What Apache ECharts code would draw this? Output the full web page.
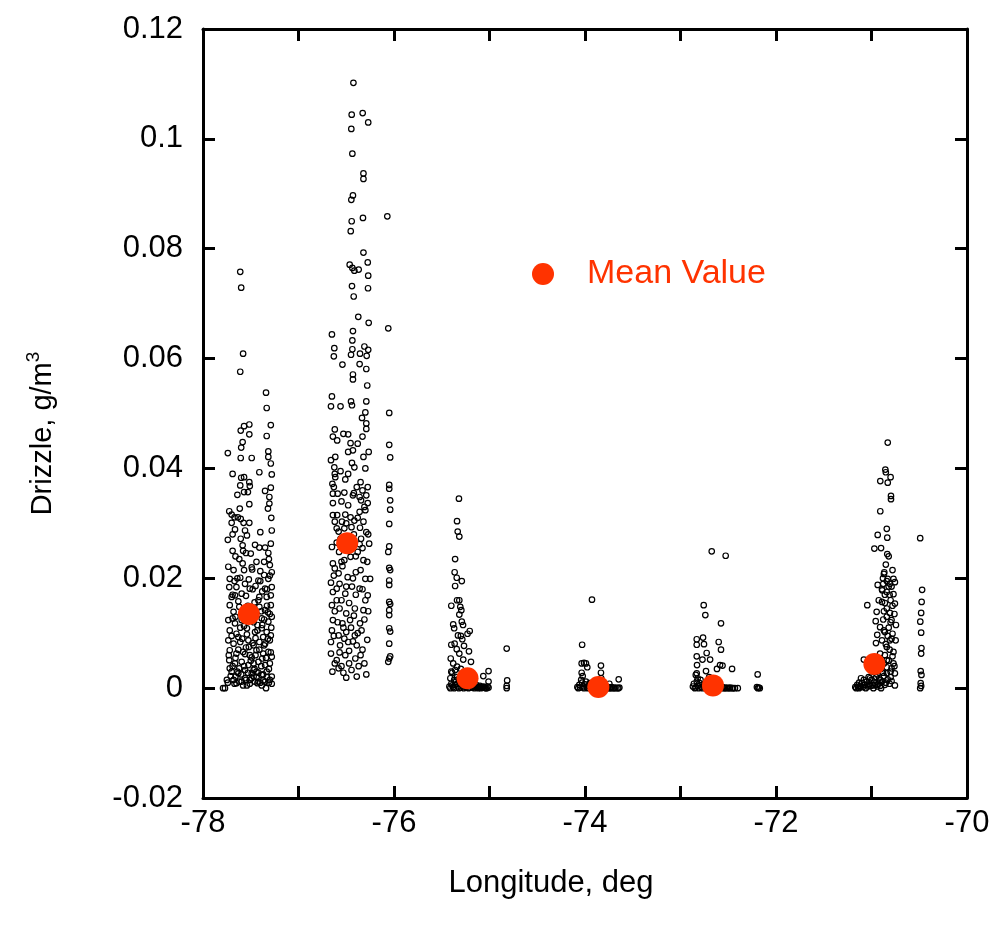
<!DOCTYPE html>
<html>
<head>
<meta charset="utf-8">
<script src="https://cdn.jsdelivr.net/npm/echarts@6/dist/echarts.min.js"></script>
<style>html,body{margin:0;padding:0;background:#fff}#c{width:997px;height:932px}</style>
</head>
<body>
<div id="c"></div>
<script>
// ---- data ----
const xTicks = [-78, -76, -74, -72, -70];
const yTicks = [-0.02, 0, 0.02, 0.04, 0.06, 0.08, 0.1, 0.12];

const meanLon = [-77.52, -76.49, -75.23, -73.86, -72.66, -70.97];
const meanVal = [0.0135, 0.0264, 0.0018, 0.0002, 0.0005, 0.0044];

const cluster1 = [
[-77.61,0.0758],[-77.60,0.0729],[-77.58,0.0609],[-77.61,0.0576],[-77.34,0.0538],[-77.333,0.0510],
[-77.515,0.0480],[-77.57,0.0477],[-77.605,0.0469],[-77.29,0.0479],[-77.333,0.0459],[-77.515,0.0462],
[-77.585,0.0448],[-77.60,0.0438],[-77.74,0.0428],[-77.605,0.0419],[-77.49,0.0419],[-77.316,0.0431],
[-77.316,0.0421],[-77.29,0.0409],[-77.69,0.0390],[-77.60,0.0383],[-77.57,0.0384],[-77.41,0.0393],
[-77.28,0.0389],[-77.515,0.0375],[-77.61,0.0369],[-77.51,0.0368],[-77.29,0.0365],[-77.57,0.0357],
[-77.64,0.0352],[-77.53,0.0357],[-77.35,0.0359],[-77.305,0.0348],[-77.305,0.0336],[-77.515,0.0335],
[-77.615,0.0327],[-77.725,0.0322],[-77.70,0.0316],[-77.67,0.0311],[-77.635,0.0311],[-77.605,0.0308],
[-77.575,0.0301],[-77.515,0.0301],[-77.32,0.0327],[-77.285,0.0310],[-77.70,0.0301],[-77.665,0.0289],
[-77.56,0.0287],[-77.40,0.0284],[-77.28,0.0287],[-77.69,0.0280],[-77.74,0.0270],[-77.605,0.0272],
[-77.54,0.0278],[-77.455,0.0261],[-77.41,0.0256],[-77.35,0.0256],[-77.29,0.0263],[-77.585,0.0260],
[-77.55,0.0246],[-77.316,0.0246],[-77.735,0.0221],[-77.68,0.0215],[-77.585,0.0227],[-77.485,0.0216],
[-77.40,0.0213],[-77.30,0.0224],[-77.28,0.0211],[-77.72,0.0199],[-77.61,0.0201],[-77.56,0.0190],
[-77.42,0.0196],[-77.316,0.0199],[-77.725,0.0184],[-77.65,0.0184],[-77.51,0.0181],[-77.35,0.0181],
[-77.28,0.0184],[-77.70,0.0166],[-77.665,0.0169],[-77.595,0.0172],[-77.41,0.0166],[-77.333,0.0166],
[-77.29,0.0169],[-77.72,0.0151],[-77.68,0.0139],[-77.62,0.0148],[-77.41,0.0148],[-77.35,0.0142],
[-77.29,0.0151],[-77.735,0.0124],[-77.665,0.0118],[-77.595,0.0124],[-77.385,0.0127],[-77.316,0.0121],
[-77.28,0.0130],[-77.72,0.0105],[-77.65,0.0099],[-77.54,0.0109],[-77.455,0.0102],[-77.385,0.0109],
[-77.333,0.0102],[-77.29,0.0096],[-77.735,0.0087],[-77.68,0.0081],[-77.61,0.0084],[-77.525,0.0087],
[-77.47,0.0078],[-77.41,0.0084],[-77.35,0.0081],[-77.30,0.0087],[-77.72,0.0069],[-77.65,0.0063],
[-77.58,0.0066],[-77.51,0.0060],[-77.44,0.0069],[-77.37,0.0063],[-77.316,0.0066],[-77.28,0.0057],
[-77.725,0.0051],[-77.665,0.0045],[-77.595,0.0048],[-77.525,0.0042],[-77.47,0.0045],[-77.42,0.0048],
[-77.35,0.0042],[-77.30,0.0045],[-77.70,0.0030],[-77.63,0.0027],[-77.56,0.0033],[-77.49,0.0027],
[-77.44,0.0030],[-77.385,0.0024],[-77.333,0.0030],[-77.68,0.0015],[-77.595,0.0012],[-77.51,0.0015],
[-77.43,0.0009],[-77.34,0.0000],[-77.79,0.0000],[-77.77,0.0000],[-77.65,0.0009],[-77.28,0.0021],
[-77.54,0.0005],[-77.385,0.0005],[-77.47,0.0021],[-77.62,0.0036],[-77.46,0.0035],[-77.37,0.0014],
[-77.31,0.0010],[-77.56,0.0018],[-77.42,0.0012],[-77.66,0.0021],[-77.72,0.0036],[-77.49,0.0056],
[-77.38,0.0054],[-77.55,0.0074],[-77.45,0.0091],[-77.63,0.0093],[-77.37,0.0093],[-77.57,0.0113],
[-77.43,0.0115],[-77.50,0.0132],[-77.69,0.0127],[-77.32,0.0138],[-77.46,0.0156],[-77.63,0.0158],
[-77.38,0.0176],[-77.55,0.0168],[-77.45,0.0186],[-77.67,0.0195],[-77.36,0.0206],[-77.52,0.0198],
[-77.62,0.0235],[-77.44,0.0230],[-77.31,0.0235],[-77.69,0.0250],[-77.50,0.0245],
[-77.74,0.0010],[-77.71,0.0022],[-77.69,0.0040],[-77.67,0.0008],[-77.66,0.0055],[-77.64,0.0030],
[-77.63,0.0070],[-77.62,0.0012],[-77.60,0.0025],[-77.59,0.0090],[-77.58,0.0005],[-77.57,0.0040],
[-77.56,0.0062],[-77.55,0.0015],[-77.54,0.0098],[-77.53,0.0028],[-77.52,0.0075],[-77.51,0.0008],
[-77.50,0.0050],[-77.49,0.0018],[-77.48,0.0082],[-77.47,0.0033],[-77.46,0.0012],[-77.45,0.0060],
[-77.44,0.0020],[-77.43,0.0105],[-77.42,0.0028],[-77.41,0.0070],[-77.40,0.0010],[-77.39,0.0040],
[-77.38,0.0115],[-77.37,0.0025],[-77.36,0.0078],[-77.35,0.0012],[-77.34,0.0055],[-77.33,0.0020],
[-77.32,0.0090],[-77.31,0.0035],[-77.30,0.0015],[-77.29,0.0065],[-77.28,0.0008],[-77.285,0.0110],
[-77.30,0.0135],[-77.33,0.0150],[-77.36,0.0125],[-77.39,0.0140],[-77.42,0.0160],[-77.47,0.0120],
[-77.53,0.0150],[-77.58,0.0135],[-77.61,0.0110],[-77.66,0.0130],[-77.70,0.0095],[-77.73,0.0060],
[-77.75,0.0015],[-77.69,0.0170],[-77.64,0.0200],[-77.57,0.0215],[-77.48,0.0180],[-77.40,0.0195],
[-77.33,0.0180],[-77.30,0.0205],[-77.36,0.0230],[-77.58,0.0250],[-77.66,0.0240],[-77.49,0.0220]
];

const cluster2 = [
[-76.425,0.1102],[-76.443,0.1044],[-76.328,0.1047],[-76.27,0.1030],[-76.447,0.1018],[-76.436,0.0973],
[-76.32,0.0937],[-76.32,0.0927],[-76.43,0.0897],[-76.447,0.0889],[-76.325,0.0856],[-76.443,0.0850],
[-76.453,0.0832],[-76.32,0.0793],[-76.275,0.0775],[-76.464,0.0771],[-76.436,0.0765],[-76.415,0.0760],
[-76.37,0.0762],[-76.27,0.0751],[-76.44,0.0732],[-76.272,0.0728],[-76.422,0.0713],[-76.374,0.0676],
[-76.265,0.0665],[-76.65,0.0644],[-76.43,0.0650],[-76.436,0.0633],[-76.625,0.0619],[-76.436,0.0617],
[-76.31,0.0622],[-76.27,0.0616],[-76.63,0.0604],[-76.356,0.0609],[-76.286,0.0605],[-76.45,0.0607],
[-76.54,0.0589],[-76.36,0.0590],[-76.29,0.0581],[-76.43,0.0571],[-76.43,0.0562],[-76.28,0.0551],
[-76.65,0.0531],[-76.66,0.0513],[-76.56,0.0513],[-76.45,0.0522],[-76.44,0.0515],[-76.29,0.0522],
[-76.30,0.0502],[-76.335,0.0492],[-76.29,0.0482],[-76.62,0.0471],[-76.64,0.0458],[-76.595,0.0451],
[-76.53,0.0463],[-76.48,0.0462],[-76.33,0.0458],[-76.29,0.0472],[-76.455,0.0446],[-76.38,0.0445],
[-76.48,0.0430],[-76.43,0.0433],[-76.32,0.0421],[-76.265,0.0430],[-76.615,0.0421],[-76.66,0.0415],
[-76.625,0.0402],[-76.44,0.0410],[-76.415,0.0402],[-76.30,0.0400],[-76.615,0.0384],[-76.56,0.0395],
[-76.48,0.0390],[-76.51,0.0380],[-76.645,0.0372],[-76.63,0.0366],[-76.39,0.0366],[-76.33,0.0360],
[-76.275,0.0366],[-76.64,0.0354],[-76.59,0.0354],[-76.52,0.0356],[-76.43,0.0351],[-76.36,0.0348],
[-76.29,0.0351],[-76.64,0.0337],[-76.48,0.0333],[-76.345,0.0342],[-76.275,0.0337],[-76.64,0.0315],
[-76.595,0.0315],[-76.51,0.0316],[-76.455,0.0311],[-76.36,0.0321],[-76.30,0.0324],[-76.62,0.0303],
[-76.545,0.0303],[-76.415,0.0305],[-76.32,0.0303],[-76.60,0.0291],[-76.52,0.0291],[-76.445,0.0293],
[-76.356,0.0292],[-76.29,0.0284],[-76.56,0.0272],[-76.345,0.0272],[-76.26,0.0263],[-76.65,0.0257],
[-76.575,0.0248],[-76.52,0.0233],[-76.455,0.0239],[-76.38,0.0248],[-76.32,0.0233],[-76.25,0.0199],
[-76.64,0.0227],[-76.62,0.0218],[-76.66,0.0192],[-76.58,0.0209],[-76.485,0.0202],[-76.40,0.0211],
[-76.30,0.0199],[-76.60,0.0181],[-76.51,0.0172],[-76.36,0.0181],[-76.275,0.0169],[-76.65,0.0151],
[-76.57,0.0145],[-76.50,0.0136],[-76.41,0.0145],[-76.32,0.0142],[-76.64,0.0124],[-76.54,0.0118],
[-76.46,0.0124],[-76.356,0.0118],[-76.65,0.0105],[-76.58,0.0096],[-76.50,0.0102],[-76.41,0.0096],
[-76.34,0.0105],[-76.66,0.0084],[-76.565,0.0078],[-76.48,0.0084],[-76.39,0.0078],[-76.66,0.0063],
[-76.60,0.0051],[-76.51,0.0060],[-76.405,0.0054],[-76.35,0.0060],[-76.645,0.0030],[-76.58,0.0036],
[-76.50,0.0019],[-76.39,0.0021],[-76.445,0.0033],[-76.55,0.0040],[-76.31,0.0045],[-76.47,0.0068],
[-76.28,0.0088],[-76.53,0.0110],[-76.42,0.0132],[-76.60,0.0160],[-76.30,0.0160],[-76.44,0.0185],
[-76.54,0.0222],[-76.36,0.0262],[-76.60,0.0265],[-76.42,0.0280],
[-76.62,0.0045],[-76.57,0.0065],[-76.53,0.0028],[-76.47,0.0045],[-76.43,0.0085],[-76.37,0.0040],
[-76.33,0.0070],[-76.29,0.0025],[-76.63,0.0095],[-76.59,0.0120],[-76.52,0.0090],[-76.45,0.0110],
[-76.38,0.0100],[-76.31,0.0125],[-76.27,0.0140],[-76.62,0.0140],[-76.55,0.0160],[-76.47,0.0155],
[-76.40,0.0170],[-76.33,0.0180],[-76.64,0.0175],[-76.57,0.0190],[-76.50,0.0185],[-76.43,0.0200],
[-76.35,0.0215],[-76.28,0.0230],[-76.63,0.0205],[-76.55,0.0230],[-76.48,0.0250],[-76.40,0.0240],
[-76.33,0.0255],[-76.27,0.0280],[-76.58,0.0285],[-76.50,0.0300],[-76.38,0.0310],[-76.31,0.0330],
[-76.55,0.0340],[-76.42,0.0355],[-76.35,0.0375],[-76.62,0.0390]
];

const column2b = [
[-76.07,0.0859],[-76.06,0.0655],[-76.05,0.0501],[-76.05,0.0443],[-76.04,0.0420],[-76.05,0.0370],
[-76.05,0.0363],[-76.04,0.0342],[-76.04,0.0325],[-76.05,0.0299],[-76.05,0.0258],[-76.06,0.0248],
[-76.05,0.0219],[-76.04,0.0215],[-76.05,0.0196],[-76.05,0.0188],[-76.05,0.0157],[-76.04,0.0153],
[-76.05,0.0142],[-76.05,0.0133],[-76.05,0.0109],[-76.04,0.0103],[-76.05,0.0081],[-76.04,0.0058],
[-76.05,0.0054],[-76.06,0.0048]
];

const cluster3 = [
[-75.32,0.0345],[-75.34,0.0304],[-75.333,0.0285],[-75.316,0.0276],[-75.36,0.0235],[-75.365,0.0211],
[-75.343,0.0201],[-75.29,0.0195],[-75.36,0.0186],[-75.34,0.0160],[-75.316,0.0160],[-75.40,0.0150],
[-75.306,0.0148],[-75.295,0.0142],[-75.316,0.0134],[-75.29,0.0121],[-75.38,0.0116],[-75.277,0.0115],
[-75.37,0.0109],[-75.207,0.0104],[-75.23,0.0099],[-75.33,0.0096],[-75.30,0.0095],[-75.285,0.0089],
[-75.40,0.0079],[-75.365,0.0081],[-75.267,0.0077],[-75.343,0.0071],[-75.215,0.0067],[-75.406,0.0054],
[-75.316,0.0063],[-75.275,0.0052],[-75.194,0.0048],[-75.38,0.0045],[-75.34,0.0039],[-75.01,0.0031],
[-75.40,0.0030],[-75.065,0.0022],[-75.01,0.0012],
[-75.42,0.0003],[-75.40,0.0008],[-75.38,0.0002],[-75.36,0.0006],[-75.35,0.0012],[-75.33,0.0003],
[-75.31,0.0007],[-75.30,0.0001],[-75.28,0.0004],[-75.26,0.0009],[-75.25,0.0002],[-75.23,0.0005],
[-75.21,0.0001],[-75.19,0.0004],[-75.17,0.0002],[-75.15,0.0003],[-75.13,0.0001],[-75.11,0.0002],
[-75.09,0.0000],[-75.07,0.0002],[-75.05,0.0001],[-75.03,0.0000],[-75.01,0.0001],[-75.37,0.0015],
[-75.34,0.0020],[-75.32,0.0017],[-75.29,0.0013],[-75.27,0.0024],[-75.39,0.0028],[-75.36,0.0033],
[-75.41,0.0018],[-75.30,0.0035],[-75.25,0.0010],[-75.20,0.0008],[-75.14,0.0006],
[-75.12,0.0000],[-75.10,0.0004],[-75.08,0.0001],[-75.06,0.0003],[-75.04,0.0000],[-75.16,0.0000],
[-75.41,0.0000],[-75.39,0.0005],[-75.37,0.0000],[-75.34,0.0008],[-75.32,0.0000],[-75.29,0.0006],
[-75.27,0.0000],[-75.24,0.0003],[-75.22,0.0000],[-75.18,0.0001],[-75.02,0.0003],
[-74.82,0.0000],[-74.82,0.0004],[-74.815,0.0014],[-74.82,0.0072]
];

const cluster4 = [
[-73.927,0.0161],[-74.03,0.0079],[-74.035,0.0045],[-74.01,0.0046],[-73.99,0.0045],[-73.833,0.0041],
[-73.976,0.0038],[-74.035,0.0028],[-73.833,0.0028],[-74.024,0.0022],[-73.647,0.0016],[-73.745,0.0008],
[-74.08,0.0002],[-74.06,0.0006],[-74.05,0.0001],[-74.03,0.0010],[-74.02,0.0003],[-74.00,0.0007],
[-73.98,0.0001],[-73.96,0.0004],[-73.94,0.0002],[-73.92,0.0005],[-73.90,0.0001],[-73.88,0.0003],
[-73.86,0.0000],[-73.84,0.0004],[-73.82,0.0001],[-73.80,0.0003],[-73.78,0.0000],[-73.76,0.0002],
[-73.74,0.0000],[-73.72,0.0002],[-73.70,0.0000],[-73.68,0.0001],[-73.66,0.0000],[-73.64,0.0001],
[-74.04,0.0015],[-73.99,0.0012],[-73.95,0.0009],[-73.85,0.0012],[-73.83,0.0018],
[-74.07,0.0000],[-74.01,0.0000],[-73.97,0.0000],[-73.93,0.0000],[-73.89,0.0000],[-73.81,0.0000],
[-73.77,0.0000],[-73.73,0.0000],[-73.69,0.0000],[-73.65,0.0000]
];

const cluster5 = [
[-72.673,0.0249],[-72.527,0.0241],[-72.757,0.0151],[-72.74,0.0133],[-72.576,0.0118],[-72.764,0.0092],
[-72.83,0.0089],[-72.83,0.0079],[-72.754,0.0080],[-72.60,0.0084],[-72.576,0.0070],[-72.726,0.0064],
[-72.83,0.0058],[-72.77,0.0052],[-72.69,0.0052],[-72.827,0.0042],[-72.586,0.0042],[-72.56,0.0041],
[-72.46,0.0035],[-72.733,0.0031],[-72.84,0.0024],[-72.83,0.0027],[-72.618,0.0035],
[-72.87,0.0003],[-72.86,0.0008],[-72.84,0.0001],[-72.83,0.0012],[-72.82,0.0004],[-72.80,0.0009],
[-72.78,0.0002],[-72.76,0.0006],[-72.74,0.0001],[-72.72,0.0004],[-72.70,0.0002],[-72.68,0.0005],
[-72.66,0.0001],[-72.64,0.0003],[-72.62,0.0000],[-72.60,0.0003],[-72.58,0.0001],[-72.56,0.0002],
[-72.54,0.0000],[-72.52,0.0001],[-72.50,0.0000],[-72.48,0.0001],[-72.46,0.0000],[-72.43,0.0000],
[-72.40,0.0000],[-72.82,0.0018],[-72.79,0.0015],[-72.70,0.0020],[-72.64,0.0012],
[-72.85,0.0000],[-72.81,0.0000],[-72.77,0.0000],[-72.73,0.0000],[-72.69,0.0000],[-72.65,0.0000],
[-72.61,0.0000],[-72.57,0.0000],[-72.53,0.0000],[-72.49,0.0000],[-72.45,0.0000],
[-72.192,0.0025],[-72.20,0.0002],[-72.19,0.0000],[-72.18,0.0001],[-72.17,0.0000]
];

const cluster6 = [
[-70.83,0.0447],[-70.855,0.0398],[-70.85,0.0393],[-70.80,0.0384],[-70.908,0.0377],[-70.83,0.0374],
[-70.796,0.0350],[-70.796,0.0344],[-70.908,0.0322],[-70.84,0.0290],[-70.935,0.0279],[-70.835,0.0274],
[-70.97,0.0254],[-70.90,0.0255],[-70.835,0.0244],[-70.866,0.0211],[-70.83,0.0199],[-70.77,0.0199],
[-70.935,0.0188],[-70.877,0.0190],[-70.807,0.0190],[-70.755,0.0193],[-70.888,0.0178],[-70.84,0.0175],
[-70.77,0.0171],[-70.924,0.0160],[-70.89,0.0157],[-70.755,0.0154],[-71.044,0.0151],[-70.84,0.0145],
[-70.946,0.0139],[-70.807,0.0137],[-70.956,0.0122],[-70.877,0.0125],[-70.79,0.0124],[-70.744,0.0115],
[-70.91,0.0111],[-70.86,0.0102],[-70.78,0.0099],[-70.94,0.0097],[-70.89,0.0087],[-70.807,0.0087],
[-70.747,0.0087],[-70.953,0.0082],[-70.84,0.0075],[-70.77,0.0066],[-70.91,0.0063],[-71.08,0.0052],
[-70.84,0.0051],[-70.77,0.0045],[-70.79,0.0036],[-70.755,0.0027],[-70.84,0.0027],[-71.11,0.0018],
[-71.016,0.0018],[-70.91,0.0015],[-70.755,0.0005],[-70.86,0.0060],[-70.82,0.0110],[-70.87,0.0140],
[-70.80,0.0160],[-70.86,0.0170],[-70.82,0.0185],[-70.88,0.0200],[-70.85,0.0225],[-70.78,0.0215],
[-70.82,0.0240],[-70.87,0.0045],[-70.80,0.0030],[-70.90,0.0035],[-70.94,0.0025],[-70.98,0.0030],
[-71.17,0.0002],[-71.15,0.0006],[-71.14,0.0001],[-71.12,0.0004],[-71.10,0.0009],[-71.09,0.0002],
[-71.07,0.0006],[-71.05,0.0012],[-71.04,0.0003],[-71.02,0.0008],[-71.00,0.0015],[-70.99,0.0005],
[-70.97,0.0010],[-70.95,0.0020],[-70.93,0.0008],[-70.91,0.0004],[-70.89,0.0012],[-70.87,0.0022],
[-70.85,0.0010],[-70.83,0.0016],[-70.81,0.0008],[-70.79,0.0013],
[-71.13,0.0010],[-71.08,0.0015],[-71.03,0.0020],[-71.01,0.0004],[-70.96,0.0006],[-70.92,0.0018],
[-70.88,0.0028],[-70.86,0.0006],[-70.84,0.0038],[-70.82,0.0050],[-70.80,0.0020],[-70.78,0.0058],
[-70.76,0.0040],[-70.81,0.0070],[-70.85,0.0080],[-70.79,0.0090],[-70.83,0.0095],[-70.87,0.0105],
[-70.80,0.0120],[-70.76,0.0135],[-70.84,0.0130],[-70.78,0.0150],[-70.86,0.0155],[-70.81,0.0170],
[-70.89,0.0180],[-70.79,0.0185],[-70.84,0.0195],[-70.87,0.0208],
[-71.16,0.0000],[-71.13,0.0000],[-71.11,0.0003],[-71.06,0.0000],[-71.03,0.0005],[-70.98,0.0000],
[-70.94,0.0003],[-70.90,0.0000]
];

const column6b = [
[-70.49,0.0273],[-70.47,0.0179],[-70.475,0.0157],[-70.48,0.0137],[-70.489,0.0121],[-70.48,0.0101],
[-70.477,0.0073],[-70.48,0.0063],[-70.485,0.0031],[-70.477,0.0024],[-70.485,0.0009],[-70.49,0.0000],
[-70.48,0.0004]
];

// ---- chart ----
const FONT = 'Liberation Sans, Arial, sans-serif';
const chart = echarts.init(document.getElementById('c'), null, {renderer: 'canvas'});
const scatterStyle = {
  type: 'scatter', symbol: 'circle', symbolSize: 5.5,
  itemStyle: {color: 'rgba(255,255,255,0)', borderColor: '#000000', borderWidth: 1.2, opacity: 1},
  silent: true, xAxisIndex: 0, yAxisIndex: 0
};
const rawSets = [cluster1, cluster2, column2b, cluster3, cluster4, cluster5, cluster6, column6b];
const series = rawSets.map((d, i) => Object.assign({name: 'data' + i, data: d}, scatterStyle));
series.push({
  name: 'Mean Value', type: 'scatter', symbol: 'circle', symbolSize: 22, z: 5,
  itemStyle: {color: '#FF3300', opacity: 1},
  data: meanLon.map((x, i) => [x, meanVal[i]])
});

const axisLine = {show: true, onZero: false, lineStyle: {color: '#000', width: 3}};
const axisTick = {show: true, inside: true, length: 12, lineStyle: {color: '#000', width: 3}};
const fmtY = v => {
  const r = Math.round(v * 100) / 100;
  return yTicks.some(t => Math.abs(t - r) < 1e-9) ? String(r) : '';
};
const fmtX = v => xTicks.indexOf(Math.round(v)) >= 0 ? String(Math.round(v)) : '';

chart.setOption({
  animation: false,
  backgroundColor: '#ffffff',
  grid: {left: 203, top: 29, right: 30, bottom: 134, containLabel: false},
  legend: {
    data: ['Mean Value'], left: 532, top: 257, padding: 0,
    icon: 'circle', itemWidth: 22, itemHeight: 22,
    itemStyle: {color: '#FF3300', opacity: 1},
    textStyle: {color: '#FF3300', fontSize: 34, fontFamily: FONT, padding: [0, 0, 0, 28]}
  },
  xAxis: [{
    type: 'value', min: -78, max: -70, interval: 1, position: 'bottom',
    axisLine, axisTick, splitLine: {show: false},
    axisLabel: {formatter: fmtX, color: '#000', fontSize: 31, fontFamily: FONT, margin: 10},
    name: 'Longitude, deg', nameLocation: 'middle', nameGap: 70,
    nameTextStyle: {color: '#000', fontSize: 31, fontFamily: FONT, padding: [0, 68, 0, 0]}
  }, {
    type: 'value', min: -78, max: -70, interval: 1, position: 'top',
    axisLine, axisTick, splitLine: {show: false}, axisLabel: {show: false}
  }],
  yAxis: [{
    type: 'value', min: -0.02, max: 0.12, interval: 0.02, position: 'left',
    axisLine, axisTick, splitLine: {show: false},
    axisLabel: {formatter: fmtY, color: '#000', fontSize: 31, fontFamily: FONT, margin: 20},
    name: '{a|Drizzle, g/m}{s|3}', nameLocation: 'middle', nameGap: 142,
    nameTextStyle: {
      color: '#000', fontFamily: FONT, padding: [0, 40, 0, 0],
      rich: {
        a: {fontSize: 29, fontFamily: FONT, color: '#000'},
        s: {fontSize: 19, fontFamily: FONT, color: '#000', padding: [0, 0, 18, 0]}
      }
    }
  }, {
    type: 'value', min: -0.02, max: 0.12, interval: 0.02, position: 'right',
    axisLine, axisTick, splitLine: {show: false}, axisLabel: {show: false}
  }],
  series
});
</script>
</body>
</html>
